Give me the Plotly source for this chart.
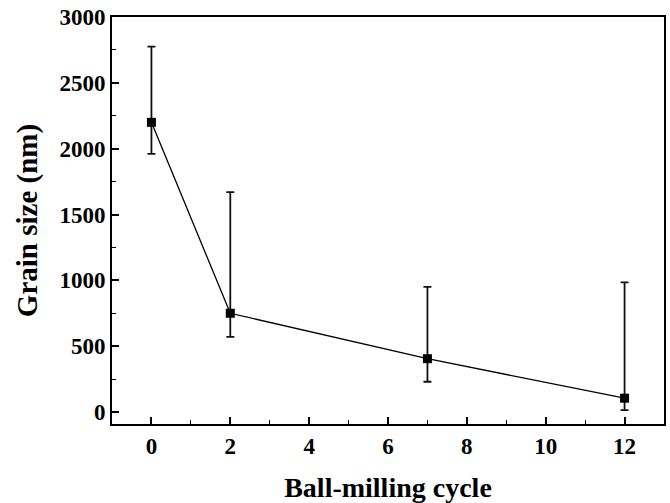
import plotly.graph_objects as go

cycles = [0, 2, 7, 12]
grain_size = [2200, 750, 405, 105]
err_plus = [575, 920, 545, 880]
err_minus = [240, 180, 175, 90]

font_family = "Liberation Serif, Times New Roman, serif"

fig = go.Figure()
fig.add_trace(go.Scatter(
    x=cycles, y=grain_size,
    mode="lines+markers",
    line=dict(color="black", width=1.3),
    marker=dict(symbol="square", size=9, color="black"),
    error_y=dict(type="data", symmetric=False, array=err_plus, arrayminus=err_minus,
                 color="#111111", thickness=1.8, width=4),
    showlegend=False,
))

axis_common = dict(
    showline=True, linecolor="black", linewidth=2, mirror=True,
    showgrid=False, zeroline=False, automargin=False,
    ticks="inside", tickcolor="black", tickwidth=1.5, ticklen=7,
    tickfont=dict(family=font_family, size=23, color="black", weight="bold"),
)

fig.update_layout(
    width=670, height=503,
    margin=dict(l=112, r=6, t=17, b=79),
    paper_bgcolor="white", plot_bgcolor="white",
    font=dict(family=font_family, color="black"),
    xaxis=dict(
        range=[-1, 13], tickmode="linear", tick0=0, dtick=2,
        minor=dict(ticks="inside", ticklen=4, tickwidth=1.2, tickcolor="black", dtick=1, tick0=0),
        title=dict(text="<b>Ball-milling cycle</b>", font=dict(family=font_family, size=28, color="black"), standoff=20),
        **axis_common,
    ),
    yaxis=dict(
        range=[-91, 3000], tickmode="linear", tick0=0, dtick=500,
        minor=dict(ticks="inside", ticklen=4, tickwidth=1.2, tickcolor="black", dtick=250, tick0=0),
        title=dict(text="<b>Grain size (nm)</b>", font=dict(family=font_family, size=29, color="black"), standoff=13),
        **axis_common,
    ),
)

fig.write_html("out.html", config={"displayModeBar": False},
               post_script="document.body.style.margin='0';document.body.style.overflow='hidden';")
